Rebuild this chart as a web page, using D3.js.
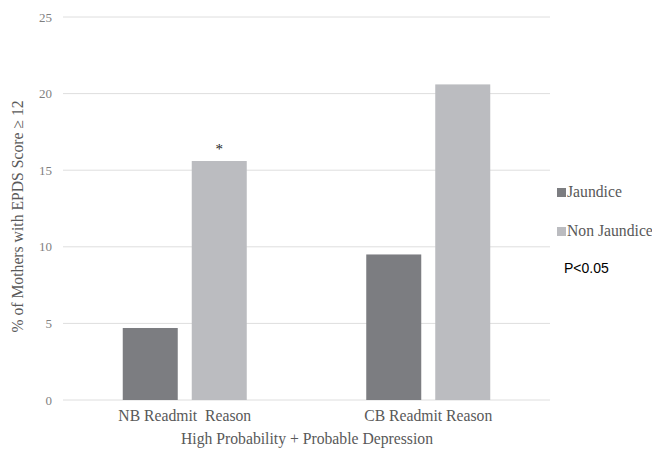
<!DOCTYPE html>
<html><head><meta charset="utf-8">
<script src="https://cdn.jsdelivr.net/npm/d3@7"></script>
<style>body{margin:0;background:#fff}</style>
</head><body>
<svg id="c" width="652" height="450"></svg>
<script>
const categories = ["NB Readmit  Reason", "CB Readmit Reason"];
const seriesNames = ["Jaundice", "Non Jaundice"];
const jaundice = [4.7, 9.5];
const nonJaundice = [15.6, 20.6];
const yTicks = [0, 5, 10, 15, 20, 25];
const colors = ["#7c7d81", "#bbbcc0"];

(function(){
const svg = d3.select("#c");
const SERIF = "Liberation Serif";
const mL = 63, mR = 550, mT = 17, mB = 400;
const x = d3.scaleBand().domain(categories).range([mL, mR]);
const y = d3.scaleLinear().domain([0, 25]).range([mB, mT]);
const bw = 55, gap = 14;

svg.append("g").selectAll("line").data(yTicks).join("line")
  .attr("x1", mL).attr("x2", mR)
  .attr("y1", d => y(d)).attr("y2", d => y(d))
  .attr("stroke", "#dedede").attr("stroke-width", 1);

svg.append("g").selectAll("text").data(yTicks).join("text")
  .attr("x", 52).attr("y", d => y(d) + 4.5)
  .attr("text-anchor", "end").attr("font-family", SERIF).attr("font-size", 13)
  .attr("fill", "#7f7f7f").text(d => d);

const series = [jaundice, nonJaundice];
series.forEach((vals, si) => {
  svg.append("g").selectAll("rect").data(categories).join("rect")
    .attr("x", c => x(c) + x.bandwidth()/2 - (bw + gap/2) + si * (bw + gap))
    .attr("y", (c, i) => y(vals[i]))
    .attr("width", bw)
    .attr("height", (c, i) => y(0) - y(vals[i]))
    .attr("fill", colors[si]);
});

svg.append("text")
  .attr("x", x(categories[0]) + x.bandwidth()/2 + gap/2 + bw/2)
  .attr("y", y(nonJaundice[0]) - 7)
  .attr("text-anchor", "middle").attr("font-family", SERIF).attr("font-size", 15)
  .attr("fill", "#222").text("*");

svg.append("g").selectAll("text").data(categories).join("text")
  .attr("x", c => x(c) + x.bandwidth()/2).attr("y", 421)
  .attr("text-anchor", "middle").attr("font-family", SERIF).attr("font-size", 15.7)
  .attr("fill", "#595959").style("white-space", "pre").text(c => c);

svg.append("text").attr("x", 307).attr("y", 444)
  .attr("text-anchor", "middle").attr("font-family", SERIF).attr("font-size", 15.7)
  .attr("fill", "#595959").text("High Probability + Probable Depression");

svg.append("text").attr("transform", `translate(23,${(mT + mB)/2 + 8}) rotate(-90)`)
  .attr("text-anchor", "middle").attr("font-family", SERIF).attr("font-size", 15.7)
  .attr("fill", "#595959").text("% of Mothers with EPDS Score \u2265 12");

const lg = svg.append("g");
seriesNames.forEach((n, i) => {
  const ly = 197 + i * 39;
  lg.append("rect").attr("x", 557).attr("y", ly - 9).attr("width", 9).attr("height", 9).attr("fill", colors[i]);
  lg.append("text").attr("x", 567).attr("y", ly).attr("font-family", SERIF).attr("font-size", 15.7)
    .attr("fill", "#595959").text(n);
});
svg.append("text").attr("x", 564).attr("y", 273).attr("font-family", "Liberation Sans")
  .attr("font-size", 14).attr("fill", "#000").text("P<0.05");
})();
</script>
</body></html>
